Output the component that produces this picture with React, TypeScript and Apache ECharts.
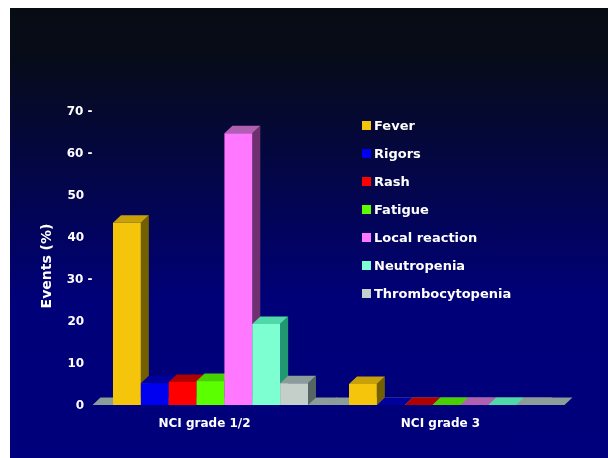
import React, { useEffect, useRef } from "react";
import * as echarts from "echarts";

const categories = ["NCI grade 1/2", "NCI grade 3"];
const seriesNames = ["Fever", "Rigors", "Rash", "Fatigue", "Local reaction", "Neutropenia", "Thrombocytopenia"];
const fever = [43.4, 5];
const rigors = [5.2, 0];
const rash = [5.5, 0];
const fatigue = [5.7, 0];
const localReaction = [64.7, 0];
const neutropenia = [19.3, 0];
const thrombocytopenia = [5.2, 0];
const seriesValues = [fever, rigors, rash, fatigue, localReaction, neutropenia, thrombocytopenia];
const frontColors = ["#f5c50c", "#0000f0", "#ff0000", "#5cff00", "#ff78ff", "#7dffd2", "#c4cfca"];
const topColors = ["#c8a00a", "#00009c", "#b00000", "#48d000", "#b060b0", "#50d8a8", "#8c9c98"];
const sideColors = ["#736000", "#000070", "#800000", "#2c8000", "#703070", "#209870", "#566662"];
const dashedTicks = [30, 60, 70];

const DEPTH_X = 8;
const DEPTH_Y = 7.5;
const BAR_SHARE = 27.86 / 236;
const FONT = "DejaVu Sans";

const box = (i: number) => (params: any, api: any) => {
  const cat = api.value(0);
  const val = api.value(1);
  const base = api.coord([cat, 0]);
  const top = api.coord([cat, val]);
  const band = api.size([1, 0])[0];
  const w = band * BAR_SHARE;
  const x0 = base[0] - (w * 7) / 2 + i * w;
  const x1 = x0 + w;
  const yb = base[1];
  const yt = top[1];
  const poly = (points: number[][], fill: string) => ({
    type: "polygon",
    shape: { points },
    style: { fill },
  });
  return {
    type: "group",
    children: [
      poly([[x1, yb], [x1 + DEPTH_X, yb - DEPTH_Y], [x1 + DEPTH_X, yt - DEPTH_Y], [x1, yt]], sideColors[i]),
      poly([[x0, yt], [x0 + DEPTH_X, yt - DEPTH_Y], [x1 + DEPTH_X, yt - DEPTH_Y], [x1, yt]], topColors[i]),
      { type: "rect", shape: { x: x0, y: yt, width: w, height: yb - yt }, style: { fill: frontColors[i] } },
    ],
  };
};

const floor = (params: any, api: any) => {
  const cat = api.value(0);
  const base = api.coord([cat, 0]);
  const band = api.size([1, 0])[0];
  const xl = base[0] - band / 2;
  const xr = base[0] + band / 2 + (cat === 0 ? 1 : 0);
  return {
    type: "polygon",
    shape: { points: [[xl, base[1]], [xl + DEPTH_X, base[1] - DEPTH_Y], [xr + DEPTH_X, base[1] - DEPTH_Y], [xr, base[1]]] },
    style: { fill: "#8c9c98" },
  };
};

export default function App() {
  const ref = useRef<HTMLDivElement>(null);
  useEffect(() => {
    document.body.style.margin = "0";
    const chart = echarts.init(ref.current!, undefined, { renderer: "svg" });
    chart.setOption({
      animation: false,
      backgroundColor: "#ffffff",
      textStyle: { fontFamily: FONT },
      graphic: [
        {
          type: "rect",
          z: -10,
          shape: { x: 10, y: 8, width: 598, height: 450 },
          style: {
            fill: new echarts.graphic.LinearGradient(0, 0, 0, 1, [
              { offset: 0, color: "#070c14" },
              { offset: 0.1, color: "#070c18" },
              { offset: 0.65, color: "#000078" },
              { offset: 1, color: "#00007c" },
            ]),
          },
        },
      ],
      grid: { left: 92.5, right: 43.5, top: 111, bottom: 53 },
      legend: {
        orient: "vertical",
        left: 357,
        top: 114,
        itemWidth: 9,
        itemHeight: 9,
        itemGap: 15,
        textStyle: { color: "#ffffff", fontFamily: FONT, fontSize: 13, fontWeight: "bold", padding: [0, 0, 0, -2] },
        data: seriesNames.map((name) => ({ name, icon: "rect" })),
      },
      xAxis: {
        type: "category",
        data: categories,
        axisLine: { show: false },
        axisTick: { show: false },
        axisLabel: { color: "#ffffff", fontFamily: FONT, fontSize: 12, fontWeight: "bold", margin: 12, padding: [0, 12, 0, 0] },
      },
      yAxis: {
        type: "value",
        min: 0,
        max: 70,
        interval: 10,
        name: "Events (%)",
        nameLocation: "middle",
        nameGap: 40,
        nameTextStyle: { color: "#ffffff", fontFamily: FONT, fontSize: 14, fontWeight: "bold", padding: [0, 16, 0, 0] },
        axisLine: { show: false },
        axisTick: { show: false },
        splitLine: { show: false },
        axisLabel: {
          color: "#ffffff",
          fontFamily: FONT,
          fontSize: 12,
          fontWeight: "bold",
          margin: 0,
          formatter: (v: number) => (dashedTicks.includes(v) ? `${v} -` : `${v}  `),
        },
      },
      series: [
        {
          type: "custom",
          name: "floor",
          silent: true,
          renderItem: floor,
          data: categories.map((_, c) => [c, 0]),
          encode: { x: 0, y: 1 },
          z: 1,
        },
        ...seriesNames.map((name, i) => ({
          type: "custom",
          name,
          renderItem: box(i),
          itemStyle: { color: frontColors[i] },
          data: seriesValues[i].map((v, c) => [c, v]),
          encode: { x: 0, y: 1 },
          z: 2 + i,
        })),
      ],
    });
    return () => chart.dispose();
  }, []);
  return <div ref={ref} style={{ width: 608, height: 458, filter: "blur(0.5px)" }} />;
}
